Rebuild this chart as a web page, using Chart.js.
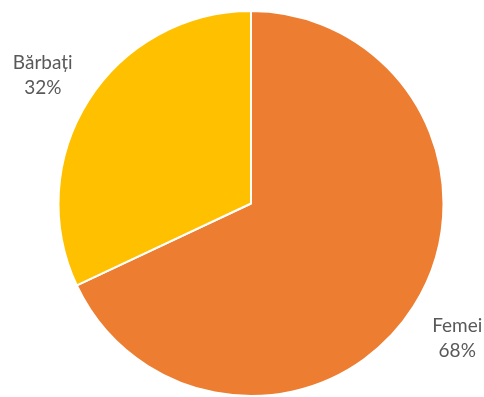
<!DOCTYPE html>
<html>
<head>
<meta charset="utf-8">
<script src="https://cdn.jsdelivr.net/npm/chart.js@4"></script>
<style>
  html, body { margin: 0; padding: 0; background: #ffffff; }
  #wrap { width: 484px; height: 397px; }
</style>
</head>
<body>
<div id="wrap"><canvas id="c" width="484" height="397"></canvas></div>
<script>
// Gender split
const categories = ['Femei', 'Bărbați'];
const shares = [68, 32];
const sliceColors = ['#ED7D31', '#FFC000'];

// Draws "name / percent" labels outside each slice, along its middle angle
const outsideLabels = {
  id: 'outsideLabels',
  afterDatasetsDraw(chart) {
    const ctx = chart.ctx;
    const meta = chart.getDatasetMeta(0);
    ctx.save();
    ctx.fillStyle = '#595959';
    ctx.font = '19px Lato, "Open Sans", sans-serif';
    ctx.textAlign = 'center';
    ctx.textBaseline = 'middle';
    meta.data.forEach((arc, i) => {
      const { x, y, startAngle, endAngle, outerRadius } = arc.getProps(['x', 'y', 'startAngle', 'endAngle', 'outerRadius'], true);
      const mid = (startAngle + endAngle) / 2;
      const d = outerRadius * 1.275;
      const lx = x + Math.cos(mid) * d - 1;
      const ly = y + Math.sin(mid) * d + 3;
      ctx.fillText(chart.data.labels[i], lx, ly - 12);
      ctx.fillText(chart.data.datasets[0].data[i] + '%', lx, ly + 13);
    });
    ctx.restore();
  }
};

new Chart(document.getElementById('c'), {
  type: 'pie',
  data: {
    labels: categories,
    datasets: [{
      data: shares,
      backgroundColor: sliceColors,
      borderColor: '#ffffff',
      borderWidth: 2
    }]
  },
  options: {
    responsive: false,
    animation: false,
    layout: { padding: { top: 10, bottom: -1, left: 56, right: 38 } },
    plugins: {
      legend: { display: false },
      tooltip: { enabled: false }
    }
  },
  plugins: [outsideLabels]
});
</script>
</body>
</html>
